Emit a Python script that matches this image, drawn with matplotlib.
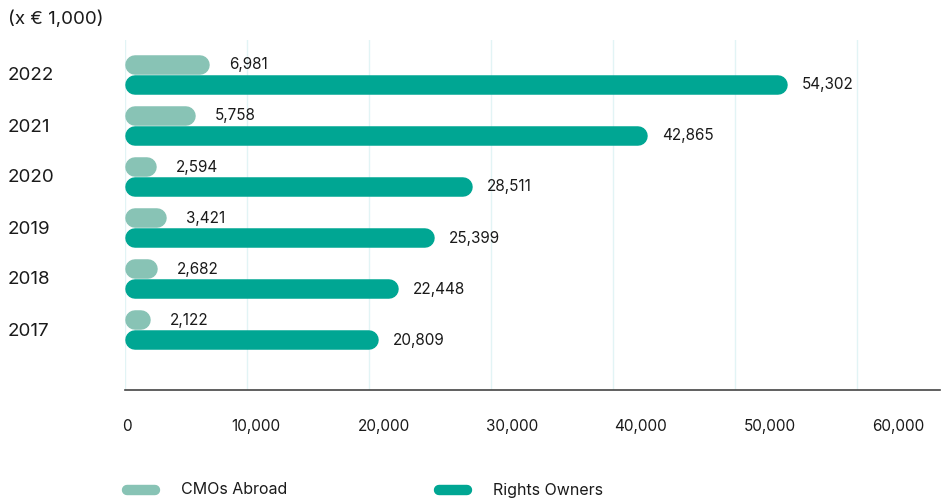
import matplotlib
matplotlib.use("Agg")
import matplotlib.pyplot as plt
from matplotlib.lines import Line2D

plt.rcParams['font.family'] = ['Inter', 'DejaVu Sans']

years = ["2017", "2018", "2019", "2020", "2021", "2022"]
cmos_abroad = [2122, 2682, 3421, 2594, 5758, 6981]
rights_owners = [20809, 22448, 25399, 28511, 42865, 54302]
xticks = [0, 10000, 20000, 30000, 40000, 50000, 60000]

c_light = "#88c3b5"
c_dark = "#00a693"
c_text = "#1a1a1a"

W, H = 942, 500
fig = plt.figure(figsize=(W / 100, H / 100), dpi=100)
ax = fig.add_axes([125 / W, 110 / H, 815 / W, 350 / H])

xmax = 66800
ax.set_xlim(0, xmax)
ax.set_ylim(-1.176, 5.686)

px_x = xmax / 815.0   # data units per pixel along x
bar_px = 19.5
lw = bar_px * 0.72
cap = bar_px / 2 * px_x
off = 0.196

for i, (a, b) in enumerate(zip(cmos_abroad, rights_owners)):
    ax.plot([cap, a - cap], [i + off, i + off], color=c_light, lw=lw,
            solid_capstyle="round", zorder=3)
    ax.plot([cap, b - cap], [i - off, i - off], color=c_dark, lw=lw,
            solid_capstyle="round", zorder=3)
    ax.text(a + 19 * px_x, i + off, f"{a:,}", ha="left", va="center",
            fontsize=11, color=c_text)
    ax.text(b + 14 * px_x, i - off, f"{b:,}", ha="left", va="center",
            fontsize=11, color=c_text)
    fig.text(8 / W, 1 - (331 - 51 * i) / H, years[i], ha="left", va="center",
             fontsize=13.5, color=c_text)

# tick labels run on a slightly wider spacing than the grid lines
lab_scale = 128.7 / 122.2
ax.set_xticks([t * lab_scale + 2 * px_x for t in xticks])
ax.set_xticklabels([f"{t:,}" for t in xticks], fontsize=11, color=c_text)
ax.tick_params(axis="x", length=0, pad=21)
ax.set_yticks([])
for t in xticks:
    ax.axvline(t, color="#e2f4f5", lw=1, zorder=0)
for s in ["top", "right", "left"]:
    ax.spines[s].set_visible(False)
ax.spines["bottom"].set_color("#444444")
ax.spines["bottom"].set_linewidth(1.2)

fig.text(8 / W, 1 - 19 / H, "(x € 1,000)", ha="left", va="center",
         fontsize=13.5, color=c_text)

# legend
for x0, col, lab in [(122, c_light, "CMOs Abroad"), (434, c_dark, "Rights Owners")]:
    fig.add_artist(Line2D([(x0 + 5) / W, (x0 + 33) / W], [1 - 490 / H] * 2,
                          transform=fig.transFigure, color=col, lw=7.5,
                          solid_capstyle="round"))
    fig.text((x0 + 59) / W, 1 - 490 / H, lab, ha="left", va="center",
             fontsize=11.5, color=c_text)

fig.savefig("out.png", dpi=100)
